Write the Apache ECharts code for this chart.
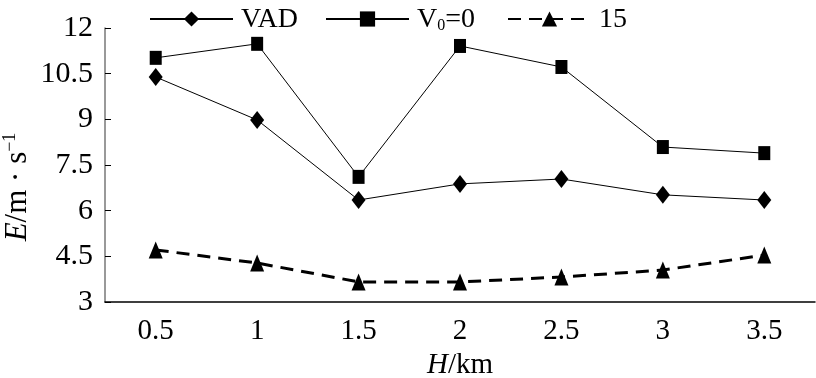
<!DOCTYPE html>
<html><head><meta charset="utf-8">
<script src="https://cdn.jsdelivr.net/npm/echarts@6/dist/echarts.min.js"></script>
<style>html,body{margin:0;padding:0;background:#fff}#c{width:816px;height:378px}</style>
</head><body><div id="c"></div>
<script>
const categories = ['0.5','1','1.5','2','2.5','3','3.5'];
const vad = [10.39, 8.98, 6.35, 6.88, 7.04, 6.52, 6.35];
const v0 = [11.02, 11.48, 7.11, 11.41, 10.72, 8.09, 7.89];
const v15 = [4.71, 4.28, 3.66, 3.66, 3.82, 4.05, 4.54];
const seriesNames = ['VAD', 'V0=0', '15'];
const yTicks = {min: 3, max: 12, interval: 1.5};

const FF = '"Liberation Serif","Times New Roman",serif';
const legendRich = {
  a: {fontFamily: FF, fontSize: 28, color: '#000'},
  s: {fontFamily: FF, fontSize: 16, color: '#000', verticalAlign: 'bottom', padding: [12,0,0,0]}
};
function mkLegend(name, left) {
  return {
    left: left, top: 1, itemWidth: 83, itemHeight: 19,
    data: [name],
    formatter: function (n) { return n === 'V0=0' ? '{a|V}{s|0}{a|=0}' : '{a|' + n + '}'; },
    textStyle: {fontFamily: FF, fontSize: 28, color: '#000', padding: [2,0,0,3], rich: legendRich}
  };
}
const chart = echarts.init(document.getElementById('c'));
chart.setOption({
  animation: false,
  backgroundColor: '#fff',
  grid: {left: 105, right: 1, top: 28, bottom: 76, outerBoundsMode: 'none', containLabel: false},
  legend: [mkLegend(seriesNames[0], 144), mkLegend(seriesNames[1], 320), mkLegend(seriesNames[2], 502)],
  xAxis: {
    type: 'category', data: categories, boundaryGap: true,
    axisLine: {lineStyle: {color: '#000', width: 1.5}},
    axisTick: {inside: true, length: 9, lineStyle: {color: '#000', width: 1}},
    axisLabel: {fontFamily: FF, fontSize: 29, color: '#000', margin: 15},
    name: '{i|H}{n|/km}', nameLocation: 'middle', nameGap: 46,
    nameTextStyle: {rich: {
      i: {fontFamily: FF, fontSize: 29, fontStyle: 'italic', color: '#000'},
      n: {fontFamily: FF, fontSize: 29, color: '#000'}
    }}
  },
  yAxis: {
    type: 'value', min: yTicks.min, max: yTicks.max, interval: yTicks.interval,
    axisLine: {show: true, lineStyle: {color: '#777', width: 1.5}},
    axisTick: {show: true, inside: true, length: 6, lineStyle: {color: '#000'}},
    splitLine: {show: false},
    axisLabel: {fontFamily: FF, fontSize: 30, color: '#000', margin: 12}
  },
  graphic: [{
    type: 'text', x: 1, y: 187, rotation: Math.PI / 2,
    style: {
      rich: {
        i: {fontFamily: FF, fontSize: 31, fontStyle: 'italic', fill: '#000'},
        n: {fontFamily: FF, fontSize: 31, fill: '#000'},
        s: {fontFamily: FF, fontSize: 18, fill: '#000', verticalAlign: 'top', padding: [0,0,15,0]}
      },
      text: '{i|E}{n|/m · s}{s|−1}',
      align: 'center', verticalAlign: 'top'
    }
  }],
  series: [
    {name: seriesNames[0], type: 'line', data: vad, symbol: 'diamond', symbolSize: [14, 18],
     itemStyle: {color: '#000'}, lineStyle: {color: '#000', width: 1}},
    {name: seriesNames[1], type: 'line', data: v0, symbol: 'rect', symbolSize: [12, 14],
     itemStyle: {color: '#000'}, lineStyle: {color: '#000', width: 1}},
    {name: seriesNames[2], type: 'line', data: v15, symbol: 'triangle', symbolSize: [14, 17],
     itemStyle: {color: '#000'}, lineStyle: {color: '#000', width: 3, type: [13, 8]}}
  ]
});
</script></body></html>
